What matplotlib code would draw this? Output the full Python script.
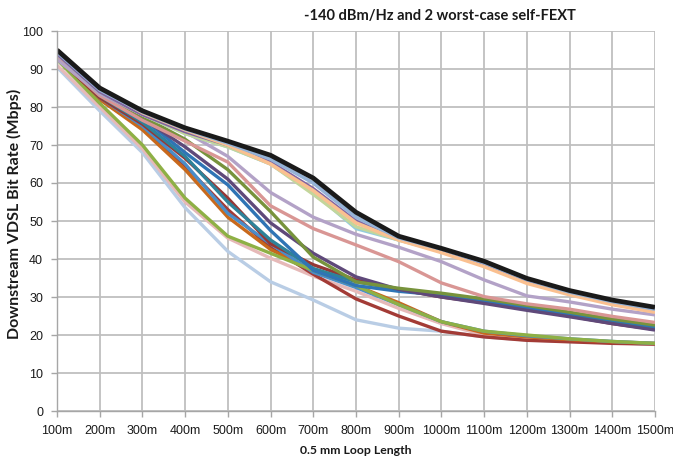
import matplotlib
matplotlib.use("Agg")
import matplotlib.pyplot as plt
import numpy as np

loop_lengths = ["100m", "200m", "300m", "400m", "500m", "600m", "700m", "800m",
                "900m", "1000m", "1100m", "1200m", "1300m", "1400m", "1500m"]

# series (drawn bottom to top)
light_blue  = [90.5, 79, 68, 53.5, 42, 34, 29.2, 24, 21.8, 21, 19.5, 18.7, 18.3, 18, 17.5]
light_pink  = [91, 80, 69, 55, 45.5, 40.2, 35.5, 31.5, 27, 23, 20, 19, 18.5, 18, 17.6]
dark_red    = [93, 82, 74.5, 64.5, 53, 43, 36, 29.5, 25, 21, 19.5, 18.6, 18.2, 17.8, 17.6]
orange      = [93, 82, 74, 63.5, 51, 42.5, 37, 33, 28.5, 23.5, 20.5, 19.5, 18.8, 18.2, 17.8]
mid_blue_lo = [93.5, 82.5, 75, 65, 52, 44, 36.5, 32.5, 28, 23.5, 21, 19.8, 19, 18.3, 17.8]
light_green = [92.5, 81, 70, 56, 46, 41.5, 37, 33, 28, 23.5, 21, 20, 19, 18.3, 17.8]
red_mid     = [93, 82.5, 75.5, 66.5, 56, 44, 38.5, 34.5, 32, 30, 28.5, 27, 25, 23, 21.5]
teal        = [93.5, 83, 76, 67, 55, 45, 37.5, 34, 32, 30.5, 28.7, 27, 25.5, 23.5, 22]
blue        = [94, 83.5, 77, 68, 59.5, 47.5, 37, 33, 31.5, 30.5, 29, 27.2, 25.7, 24, 22.3]
dark_purple = [93.5, 83.5, 77, 69.5, 61, 49.5, 41.5, 35.3, 32, 30, 28.3, 26.5, 24.8, 23, 21.3]
olive       = [94, 83.5, 77.5, 71.5, 63.5, 52.5, 40.5, 34, 32.3, 31, 29.5, 27.8, 26, 24.2, 22.6]
salmon      = [93, 83, 76.5, 71, 65.5, 54, 48, 43.7, 39.3, 33.7, 30.1, 28.2, 26.8, 24.9, 23.3]
lavender    = [92.5, 83.5, 78, 73.5, 67, 57.5, 51, 46.5, 43.1, 39.3, 34.5, 30.3, 28.7, 26.8, 25.3]
light_aqua  = [94, 84, 78, 73, 69.5, 65, 57.5, 48, 45, 42, 38.5, 34, 31, 28.5, 26.5]
pale_green  = [94, 84, 78, 73, 69.5, 65, 57, 48.5, 45, 42, 38.5, 34, 31, 28.5, 26.5]
purple      = [94, 84, 78, 73.5, 70, 65.5, 58.5, 50, 45.2, 42.2, 38.7, 34.2, 31.1, 28.6, 26.6]
peach       = [95, 85, 78.5, 74, 70, 65, 58, 49.5, 45, 41.7, 38, 33.6, 30.6, 28, 26]
steel_blue  = [94.5, 84.5, 78.7, 74.2, 70.5, 66.3, 60, 51, 45.6, 42.6, 39, 34.6, 31.3, 28.8, 26.8]
black       = [95, 85, 79, 74.5, 71, 67.3, 61.3, 52.3, 46, 42.8, 39.4, 34.9, 31.7, 29.2, 27.3]

series = [
    (light_blue, "#B9CDE5", 2.4),
    (light_pink, "#E6B9B8", 2.4),
    (dark_red, "#A33B36", 2.4),
    (orange, "#C8691C", 2.4),
    (mid_blue_lo, "#4A8DC8", 2.4),
    (light_green, "#8EB045", 2.4),
    (red_mid, "#953735", 2.4),
    (teal, "#2E8299", 2.4),
    (blue, "#2F74B5", 2.4),
    (dark_purple, "#5F497A", 2.4),
    (olive, "#77933C", 2.4),
    (salmon, "#D99694", 2.4),
    (lavender, "#B3A2C7", 2.4),
    (light_aqua, "#93CDDD", 2.4),
    (pale_green, "#C3D69B", 2.4),
    (purple, "#8064A2", 2.4),
    (peach, "#FAC090", 2.6),
    (steel_blue, "#95B3D7", 2.6),
    (black, "#1A1A1A", 3.4),
]

fig = plt.figure(figsize=(6.73, 4.68), dpi=100)
ax = fig.add_axes([57/673, 1-411/468, (655-57)/673, (411-31)/468])

x = np.arange(len(loop_lengths))
for vals, col, lw in series:
    ax.plot(x, vals, color=col, lw=lw, solid_joinstyle="round", solid_capstyle="butt")

ax.set_xlim(0, len(loop_lengths) - 1)
ax.set_ylim(0, 100)
ax.set_yticks(range(0, 101, 10))
ax.set_xticks(x)
tick_font = dict(family=["Liberation Sans Narrow", "Liberation Sans", "DejaVu Sans"], size=9)
ax.set_xticklabels(loop_lengths, **tick_font)
ax.set_yticklabels([str(v) for v in range(0, 101, 10)], **tick_font)
ax.grid(True, color="#BFBFBF", lw=1.3)
ax.set_axisbelow(True)
for s in ["top", "right"]:
    ax.spines[s].set_visible(False)
for s in ["left", "bottom"]:
    ax.spines[s].set_color("#A6A6A6")
    ax.spines[s].set_linewidth(1.0)
ax.tick_params(axis="both", colors="#A6A6A6", labelcolor="#1A1A1A", length=4, width=1.0, pad=6)

fig.text(440/673, 1-16/468, "-140 dBm/Hz and 2 worst-case self-FEXT",
         ha="center", va="center", fontsize=10.5, fontweight="bold",
         family=["Lato", "DejaVu Sans"], color="#1A1A1A")
fig.text(356/673, 1-450/468, "0.5 mm Loop Length", ha="center", va="center",
         fontsize=8.8, fontweight="bold", family=["Lato", "DejaVu Sans"], color="#1A1A1A")
fig.text(14/673, 1-214/468, "Downstream VDSL Bit Rate (Mbps)", ha="center", va="center",
         rotation=90, fontsize=11.5, fontweight="bold", family=["Lato", "DejaVu Sans"], color="#1A1A1A")

fig.savefig("out.png", dpi=100)
